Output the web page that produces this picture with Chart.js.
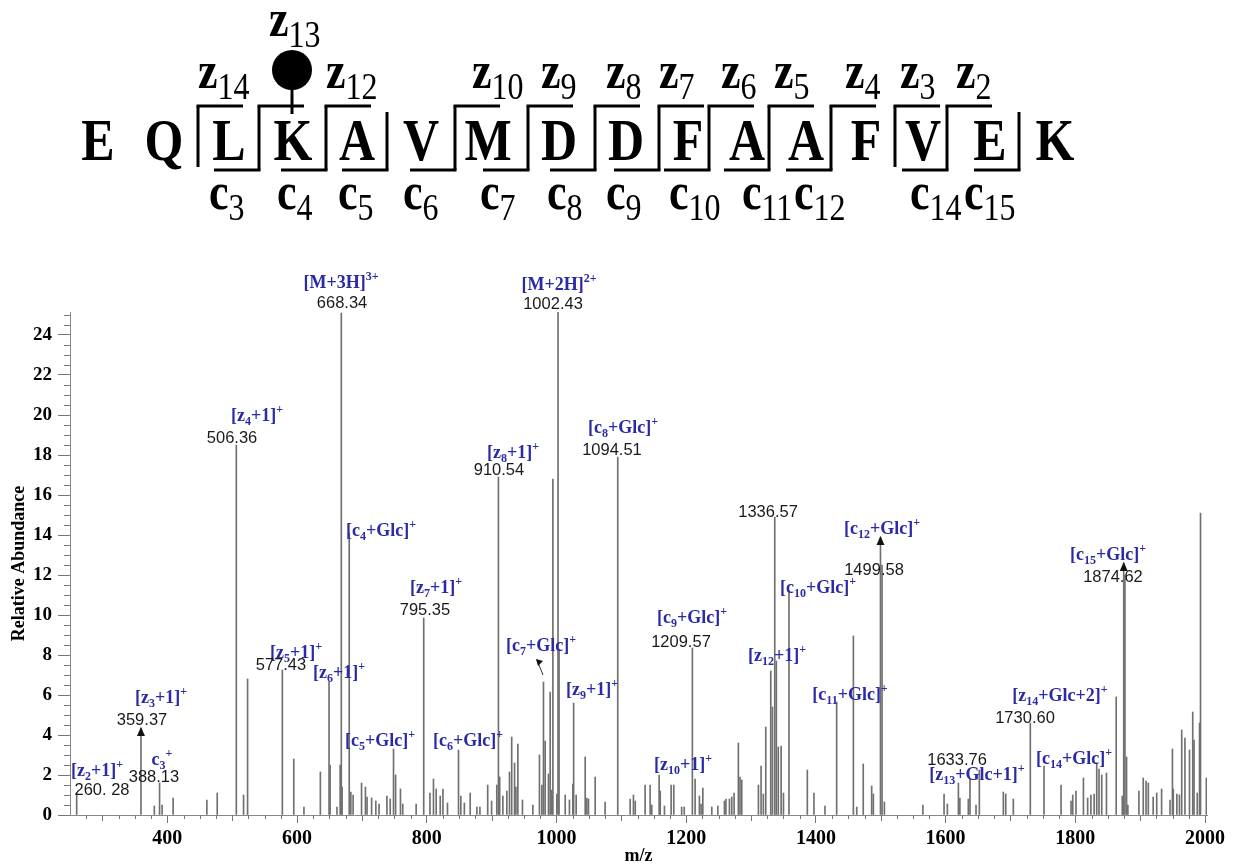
<!DOCTYPE html>
<html>
<head>
<meta charset="utf-8">
<script src="https://cdn.jsdelivr.net/npm/chart.js@4.4.0/dist/chart.umd.min.js"></script>
<style>
  body { margin: 0; background: #fff; }
  #wrap { width: 1234px; height: 867px; }
</style>
</head>
<body>
<div id="wrap"><canvas id="spec" width="1234" height="867"></canvas></div>
<script>
// ETD spectrum of glycated peptide - peak list
const mzValues = [
  260.3, 359.4, 380, 388.1, 392, 409, 461, 477, 506.4, 517.6, 523.8, 577.4, 595, 610.7, 636,
  649.4, 651, 661.6, 666.5, 668.3, 669.5, 680.5, 683, 686.5, 699.5, 705.5, 708, 715, 721.5, 726.5,
  738.6, 743.7, 748.8, 752, 759.5, 763, 783.7, 795.35, 805, 810.4, 814.6, 820.8, 825, 832, 849,
  852.6, 858, 867, 877.3, 882, 894, 900, 908, 910.54, 912.5, 917.4, 923.5, 927.6, 931, 935.4,
  937.5, 940.5, 947.6, 963.6, 973.8, 977.5, 980, 982.6, 987.7, 990.3, 992.9, 994.5, 1000.6, 1002.43, 1004,
  1013.5, 1020, 1025.3, 1026.5, 1030.4, 1044.3, 1046.9, 1049.4, 1059.7, 1075, 1094.51, 1113.6, 1118.7, 1121.5, 1136.7,
  1144.4, 1147, 1158.3, 1160, 1166.5, 1176.8, 1180.9, 1193, 1197, 1209.57, 1213.8, 1220.4, 1223, 1225.7, 1239.5,
  1248.8, 1259, 1261.3, 1266.7, 1270.3, 1273.9, 1280.5, 1283, 1285.7, 1311.4, 1315.5, 1319, 1322.7, 1330.4, 1333,
  1336.57, 1339, 1342, 1346.4, 1350, 1358.5, 1386.8, 1397, 1414, 1432, 1457.8, 1463, 1473, 1486, 1488.6,
  1499.58, 1502, 1505.6, 1565, 1597.6, 1602.7, 1619.7, 1622, 1635, 1637.6, 1646.9, 1652, 1689, 1692.7, 1704.4,
  1730.6, 1751.7, 1778, 1793.4, 1796, 1801, 1812.5, 1819, 1824, 1829, 1833, 1836.5, 1840.7, 1848, 1863,
  1872.4, 1874.62, 1876.5, 1879, 1881, 1898, 1904.7, 1909, 1912.5, 1920, 1925.5, 1933, 1946, 1949.7, 1951,
  1956.5, 1960.5, 1964, 1969, 1976, 1981, 1983, 1988, 1991.5, 1993, 2002
];
const abundances = [
  1.1, 4.35, 0.45, 1.6, 0.5, 0.85, 0.75, 1.1, 18.5, 1.0, 6.8, 7.25, 2.8, 0.4, 2.15,
  6.65, 2.5, 0.4, 2.5, 25.1, 1.4, 14.1, 1.15, 1.0, 1.6, 1.4, 0.9, 0.85, 0.7, 0.55,
  0.95, 0.8, 3.3, 2.0, 1.3, 0.55, 0.55, 9.85, 1.1, 1.8, 1.3, 0.95, 1.3, 0.6, 3.25,
  0.95, 0.6, 1.1, 0.4, 0.4, 1.5, 0.7, 1.5, 16.9, 1.9, 0.95, 1.2, 2.15, 3.9, 2.6,
  1.4, 3.55, 0.75, 0.5, 3.0, 1.5, 6.65, 3.7, 2.05, 6.15, 1.25, 16.8, 1.05, 25.2, 8.3,
  1.0, 0.75, 1.55, 5.6, 1.0, 2.9, 0.85, 0.8, 1.9, 0.65, 17.9, 0.8, 1.0, 0.7, 1.5,
  1.5, 0.5, 2.0, 1.2, 0.45, 1.5, 1.5, 0.4, 0.4, 8.35, 1.8, 0.95, 0.55, 1.35, 0.4,
  0.45, 0.7, 0.8, 0.8, 0.9, 1.1, 3.6, 1.9, 1.75, 1.5, 2.45, 1.05, 4.4, 7.2, 5.4,
  14.9, 7.7, 3.4, 3.45, 1.1, 11.2, 2.25, 1.1, 0.45, 5.65, 8.95, 0.4, 2.55, 1.45, 1.05,
  13.9, 12.5, 0.65, 0.5, 1.05, 0.55, 1.6, 0.85, 0.8, 1.8, 0.5, 2.25, 1.15, 1.05, 0.8,
  4.6, 2.45, 1.5, 0.7, 1.0, 1.2, 1.85, 0.85, 1.0, 1.05, 2.6, 2.3, 2.0, 2.1, 5.9,
  0.95, 12.6, 12.0, 2.9, 0.5, 1.2, 1.85, 1.7, 1.6, 0.9, 1.1, 1.3, 0.75, 3.3, 1.3,
  1.05, 1.0, 4.25, 3.85, 3.25, 5.15, 3.75, 1.1, 4.6, 15.1, 1.85
];
const xTickLabels = [400, 600, 800, 1000, 1200, 1400, 1600, 1800, 2000];
const yTickLabels = [0, 2, 4, 6, 8, 10, 12, 14, 16, 18, 20, 22, 24];

// ion assignments: text, m/z anchor, abundance anchor (baseline)
const ionLabels = [
  ['[M+3H]^{3+}', 667.8, 26.35], ['[M+2H]^{2+}', 1003.9, 26.25],
  ['[z_{4}+1]^{+}', 538.3, 19.7], ['[c_{4}+Glc]^{+}', 729.5, 13.95],
  ['[z_{8}+1]^{+}', 933, 17.85], ['[c_{8}+Glc]^{+}', 1102.6, 19.1],
  ['[c_{12}+Glc]^{+}', 1501.9, 14.05], ['[c_{10}+Glc]^{+}', 1403.3, 11.1],
  ['[c_{15}+Glc]^{+}', 1850.4, 12.75], ['[z_{7}+1]^{+}', 814.3, 11.1],
  ['[z_{5}+1]^{+}', 598.4, 7.85], ['[z_{6}+1]^{+}', 664.7, 6.85],
  ['[c_{7}+Glc]^{+}', 976.2, 8.2], ['[c_{9}+Glc]^{+}', 1209, 9.6],
  ['[z_{12}+1]^{+}', 1340, 7.7], ['[z_{9}+1]^{+}', 1054.8, 6.0],
  ['[c_{11}+Glc]^{+}', 1452.6, 5.75], ['[z_{14}+Glc+2]^{+}', 1776.4, 5.7],
  ['[z_{3}+1]^{+}', 390.3, 5.6], ['[c_{5}+Glc]^{+}', 728, 3.45],
  ['[c_{6}+Glc]^{+}', 863.6, 3.45], ['c_{3}^{+}', 391.8, 2.5],
  ['[z_{2}+1]^{+}', 291.6, 1.95], ['[z_{10}+1]^{+}', 1195.1, 2.25],
  ['[z_{13}+Glc+1]^{+}', 1648.4, 1.75], ['[c_{14}+Glc]^{+}', 1798, 2.55]
];
const massLabels = [
  ['668.34', 669.4, 25.35], ['1002.43', 994.7, 25.3], ['506.36', 499.8, 18.6],
  ['910.54', 911.4, 17.0], ['1094.51', 1085.6, 18.0], ['1336.57', 1326.2, 14.9],
  ['1499.58', 1489.6, 12.0], ['1874.62', 1858, 11.65], ['795.35', 797.3, 10.0],
  ['577.43', 575.3, 7.25], ['1209.57', 1192, 8.4], ['1730.60', 1722.4, 4.6],
  ['359.37', 361, 4.5], ['388.13', 379.5, 1.65], ['260. 28', 299.3, 1.0],
  ['1633.76', 1617.6, 2.5]
];
const arrowPeaks = [[359.4, 4.35], [1499.58, 13.9], [1874.62, 12.6]];

// peptide sequence and fragment map (per cleavage site, null = not observed)
const residues = ['E','Q','L','K','A','V','M','D','D','F','A','A','F','V','E','K'];
const zIons = [14, 13, 12, null, 10, 9, 8, 7, 6, 5, 4, 3, 2, null];
const cIons = [null, 3, 4, 5, 6, 7, 8, 9, 10, 11, 12, null, 14, 15];

const SERIF = '"Liberation Serif", "Times New Roman", serif';
const SANS = '"Liberation Sans", Arial, sans-serif';
const BLUE = '#2b2aa6';

function parseRich(s) {
  const out = [];
  let i = 0, buf = '';
  while (i < s.length) {
    const ch = s[i];
    if ((ch === '_' || ch === '^') && s[i + 1] === '{') {
      if (buf) { out.push({ t: buf, k: 'n' }); buf = ''; }
      const end = s.indexOf('}', i);
      out.push({ t: s.slice(i + 2, end), k: ch === '_' ? 'sub' : 'sup' });
      i = end + 1;
    } else { buf += ch; i++; }
  }
  if (buf) out.push({ t: buf, k: 'n' });
  return out;
}

function drawRich(ctx, s, cx, y) {
  const segs = parseRich(s);
  const fonts = { n: 'bold 18px ' + SERIF, sub: 'bold 12px ' + SERIF, sup: 'bold 12px ' + SERIF };
  const dy = { n: 0, sub: 4, sup: -8 };
  let w = 0;
  segs.forEach(g => { ctx.font = fonts[g.k]; g.w = ctx.measureText(g.t).width; w += g.w; });
  let x = cx - w / 2;
  ctx.fillStyle = BLUE;
  ctx.textAlign = 'left';
  ctx.textBaseline = 'alphabetic';
  segs.forEach(g => { ctx.font = fonts[g.k]; ctx.fillText(g.t, x, y + dy[g.k]); x += g.w; });
}

function stretchText(ctx, t, x, y, font, sy, align) {
  ctx.save();
  ctx.font = font;
  ctx.textAlign = align || 'left';
  ctx.translate(x, y);
  ctx.scale(1, sy);
  ctx.fillText(t, 0, 0);
  ctx.restore();
}

// layout of the sequence diagram (pixels)
const residueX = [98,164,229,293,357,421,488,559,626,688,747,806,866,923,990,1055];
const gapX = [198,259,326,387,455,528,595,659,709,769,831,895,947,1019];
const zLabelX = [198,269,326,null,472,541,606,659,721,774,845,900,956,null];
const cLabelX = [null,209,277,338,403,480,547,606,669,742,794,null,910,964];

const sequencePlugin = {
  id: 'sequence',
  afterDraw(chart) {
    const ctx = chart.ctx;
    ctx.save();
    ctx.fillStyle = '#000';
    ctx.strokeStyle = '#000';
    ctx.lineWidth = 3;
    residues.forEach((r, i) => stretchText(ctx, r, residueX[i], 160, 'bold 50px ' + SERIF, 1.2, 'center'));
    const top = 106, bot = 170;
    gapX.forEach((gx, i) => {
      ctx.beginPath();
      ctx.moveTo(gx, zIons[i] ? top : top + 6);
      ctx.lineTo(gx, cIons[i] ? bot : bot - 3);
      ctx.stroke();
      if (zIons[i]) { ctx.beginPath(); ctx.moveTo(gx - 1.5, top); ctx.lineTo(gx + 45, top); ctx.stroke(); }
      if (cIons[i]) { ctx.beginPath(); ctx.moveTo(gx - 45, bot); ctx.lineTo(gx + 1.5, bot); ctx.stroke(); }
    });
    // fragment labels
    const drawIon = (letter, num, x, yb) => {
      ctx.font = 'bold 44px ' + SERIF;
      const w = ctx.measureText(letter).width;
      stretchText(ctx, letter, x, yb, 'bold 44px ' + SERIF, 1.2);
      stretchText(ctx, String(num), x + w, yb + 11, '32px ' + SERIF, 1.2);
    };
    zIons.forEach((n, i) => {
      if (!n) return;
      if (n === 13) drawIon('z', n, zLabelX[i], 36);
      else drawIon('z', n, zLabelX[i], 88);
    });
    cIons.forEach((n, i) => { if (n) drawIon('c', n, cLabelX[i], 209); });
    // glycation mark on K
    ctx.beginPath();
    ctx.arc(292, 70, 20, 0, Math.PI * 2);
    ctx.fill();
    ctx.beginPath();
    ctx.moveTo(292, 88);
    ctx.lineTo(292, 114);
    ctx.stroke();
    ctx.restore();
  }
};

const annotatePlugin = {
  id: 'annotate',
  afterDatasetsDraw(chart) {
    const ctx = chart.ctx;
    const xs = chart.scales.x, ys = chart.scales.y;
    ctx.save();
    // minor ticks
    ctx.strokeStyle = '#777';
    ctx.lineWidth = 1;
    const x0 = chart.chartArea.left, yb = chart.chartArea.bottom;
    for (let v = 0.5; v <= 25; v += 0.5) {
      if (v % 2 === 0) continue;
      const py = Math.round(ys.getPixelForValue(v)) + 0.5;
      ctx.beginPath(); ctx.moveTo(x0 - 6, py); ctx.lineTo(x0, py); ctx.stroke();
    }
    for (let m = 275; m <= 2000; m += 25) {
      if (m % 200 === 0) continue;
      const px = Math.round(xs.getPixelForValue(m)) + 0.5;
      const len = m % 100 === 0 ? 6 : 4;
      ctx.beginPath(); ctx.moveTo(px, yb); ctx.lineTo(px, yb + len); ctx.stroke();
    }
    // arrowheads on peaks
    ctx.fillStyle = '#111';
    arrowPeaks.forEach(([m, h]) => {
      const px = xs.getPixelForValue(m), py = ys.getPixelForValue(h);
      ctx.beginPath();
      ctx.moveTo(px, py - 1); ctx.lineTo(px - 4, py + 8); ctx.lineTo(px + 4, py + 8);
      ctx.closePath(); ctx.fill();
    });
    // small arrow beside [c7+Glc]+
    const ax1 = xs.getPixelForValue(979.3), ay1 = ys.getPixelForValue(7.0);
    const ax2 = xs.getPixelForValue(970), ay2 = ys.getPixelForValue(7.75);
    ctx.strokeStyle = '#333';
    ctx.beginPath(); ctx.moveTo(ax1, ay1); ctx.lineTo(ax2, ay2); ctx.stroke();
    ctx.beginPath();
    ctx.moveTo(ax2 - 1, ay2 - 1); ctx.lineTo(ax2 + 6, ay2 + 1); ctx.lineTo(ax2 + 1, ay2 + 6);
    ctx.closePath(); ctx.fill();
    // labels
    ionLabels.forEach(([t, m, h]) => drawRich(ctx, t, xs.getPixelForValue(m), ys.getPixelForValue(h)));
    ctx.fillStyle = '#1a1a1a';
    ctx.font = '16.5px ' + SANS;
    ctx.textAlign = 'center';
    massLabels.forEach(([t, m, h]) => ctx.fillText(t, xs.getPixelForValue(m), ys.getPixelForValue(h)));
    ctx.restore();
  }
};

const ctx = document.getElementById('spec').getContext('2d');
new Chart(ctx, {
  type: 'bar',
  data: {
    datasets: [{
      data: mzValues.map((m, i) => ({ x: m, y: abundances[i] })),
      backgroundColor: '#707070',
      borderWidth: 0,
      barThickness: 1,
      grouped: false
    }]
  },
  options: {
    responsive: false,
    animation: false,
    devicePixelRatio: 1,
    layout: { padding: { left: 0, top: 312, right: 27, bottom: 0 } },
    plugins: { legend: { display: false }, tooltip: { enabled: false } },
    scales: {
      x: {
        type: 'linear', min: 250, max: 2003, offset: false,
        afterBuildTicks: s => { s.ticks = xTickLabels.map(v => ({ value: v })); },
        afterFit: s => { s.height = 52; },
        grid: { drawOnChartArea: false, drawTicks: true, tickLength: 8, color: '#777', offset: false },
        border: { color: '#888', width: 1 },
        ticks: { color: '#000', font: { family: SERIF, size: 20, weight: 'bold' }, padding: 4, maxRotation: 0, callback: v => String(v) },
        title: { display: true, text: 'm/z', color: '#000', font: { family: SERIF, size: 18, weight: 'bold' }, padding: { top: 0, bottom: 0 } }
      },
      y: {
        min: 0, max: 25.15,
        afterBuildTicks: s => { s.ticks = yTickLabels.map(v => ({ value: v })); },
        afterFit: s => { s.width = 70; },
        grid: { drawOnChartArea: false, drawTicks: true, tickLength: 12, color: '#777' },
        border: { color: '#888', width: 1 },
        ticks: { color: '#000', font: { family: SERIF, size: 19, weight: 'bold' }, padding: 6, callback: v => String(v) },
        title: { display: true, text: 'Relative Abundance', color: '#000', font: { family: SERIF, size: 18, weight: 'bold' }, padding: { top: 9, bottom: 0 } }
      }
    }
  },
  plugins: [annotatePlugin, sequencePlugin]
});
</script>
</body>
</html>
